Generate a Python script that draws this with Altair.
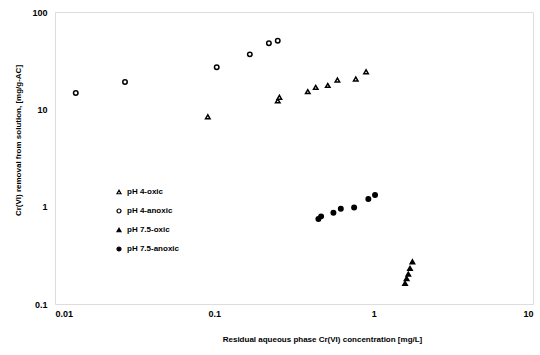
import altair as alt
import pandas as pd

series_names = ["pH 4-oxic", "pH 4-anoxic", "pH 7.5-oxic", "pH 7.5-anoxic"]

# pH 4-oxic (triangles)
ph4_oxic_x = [0.091, 0.25, 0.256, 0.386, 0.433, 0.515, 0.592, 0.772, 0.896]
ph4_oxic_y = [8.4, 12.2, 13.3, 15.2, 16.8, 17.6, 20.0, 20.5, 24.3]

# pH 4-anoxic (open circles)
ph4_anoxic_x = [0.0135, 0.0275, 0.1035, 0.167, 0.220, 0.250]
ph4_anoxic_y = [14.7, 19.1, 27.0, 36.7, 47.7, 50.7]

# pH 7.5-oxic (filled triangles)
ph75_oxic_x = [1.574, 1.61, 1.65, 1.69, 1.75]
ph75_oxic_y = [0.163, 0.183, 0.203, 0.232, 0.272]

# pH 7.5-anoxic (filled circles)
ph75_anoxic_x = [0.450, 0.468, 0.559, 0.622, 0.754, 0.926, 1.02]
ph75_anoxic_y = [0.746, 0.795, 0.866, 0.951, 0.983, 1.197, 1.316]

x_ticks = [0.01, 0.1, 1, 10]
y_ticks = [0.1, 1, 10, 100]

rows = []
for name, xs, ys in [
    (series_names[0], ph4_oxic_x, ph4_oxic_y),
    (series_names[1], ph4_anoxic_x, ph4_anoxic_y),
    (series_names[2], ph75_oxic_x, ph75_oxic_y),
    (series_names[3], ph75_anoxic_x, ph75_anoxic_y),
]:
    for xv, yv in zip(xs, ys):
        rows.append({"series": name, "x": xv, "y": yv})
df = pd.DataFrame(rows)

FONT = "Liberation Sans"

leg = alt.Legend(
    title=None, orient="none", legendX=60, legendY=176,
    symbolSize=16, symbolStrokeWidth=1.2, labelFont=FONT, labelFontWeight="bold",
    labelFontSize=8, labelColor="black", rowPadding=9, labelOffset=4,
    padding=0,
)

chart = alt.Chart(df).mark_point(
    filled=True, strokeWidth=1.5, size=20, opacity=1
).encode(
    x=alt.X(
        "x:Q",
        scale=alt.Scale(type="log", domain=[0.01, 10], nice=False),
        axis=alt.Axis(
            values=x_ticks,
            title="Residual aqueous phase Cr(VI) concentration [mg/L]",
            labelExpr="datum.value == 0.01 ? '0.01' : datum.value == 0.1 ? '0.1' : datum.label",
            grid=False, ticks=False, domain=False,
            labelFont=FONT, labelFontWeight="bold", labelFontSize=9, labelColor="black",
            labelPadding=5,
            titleFont=FONT, titleFontWeight="bold", titleFontSize=8, titleColor="black",
            titleX=267, titleY=35, titleBaseline="middle",
        ),
    ),
    y=alt.Y(
        "y:Q",
        scale=alt.Scale(type="log", domain=[0.1, 100], nice=False),
        axis=alt.Axis(
            values=y_ticks,
            title="Cr(VI) removal from solution, [mg/g-AC]",
            labelExpr="datum.value == 0.1 ? '0.1' : datum.label",
            grid=False, ticks=False, domain=False,
            labelFont=FONT, labelFontWeight="bold", labelFontSize=9, labelColor="black",
            labelPadding=8,
            titleFont=FONT, titleFontWeight="bold", titleFontSize=8, titleColor="black",
            titleX=-37, titleY=128, titleBaseline="middle", titleAlign="center",
        ),
    ),
    shape=alt.Shape(
        "series:N",
        scale=alt.Scale(domain=series_names,
                        range=["triangle-up", "circle", "triangle-up", "circle"]),
        legend=leg,
    ),
    fill=alt.Fill(
        "series:N",
        scale=alt.Scale(domain=series_names, range=["white", "white", "black", "black"]),
        legend=leg,
    ),
    stroke=alt.Stroke(
        "series:N",
        scale=alt.Scale(domain=series_names, range=["black", "black", "black", "black"]),
        legend=leg,
    ),
).properties(
    width=478, height=292,
    autosize=alt.AutoSizeParams(type="none"),
    padding={"left": 55, "top": 12, "right": 7, "bottom": 51},
).configure_view(
    stroke="black", strokeWidth=1.2
).configure(background="white")

chart.save("out.html", embed_options={"renderer": "svg", "actions": False})
